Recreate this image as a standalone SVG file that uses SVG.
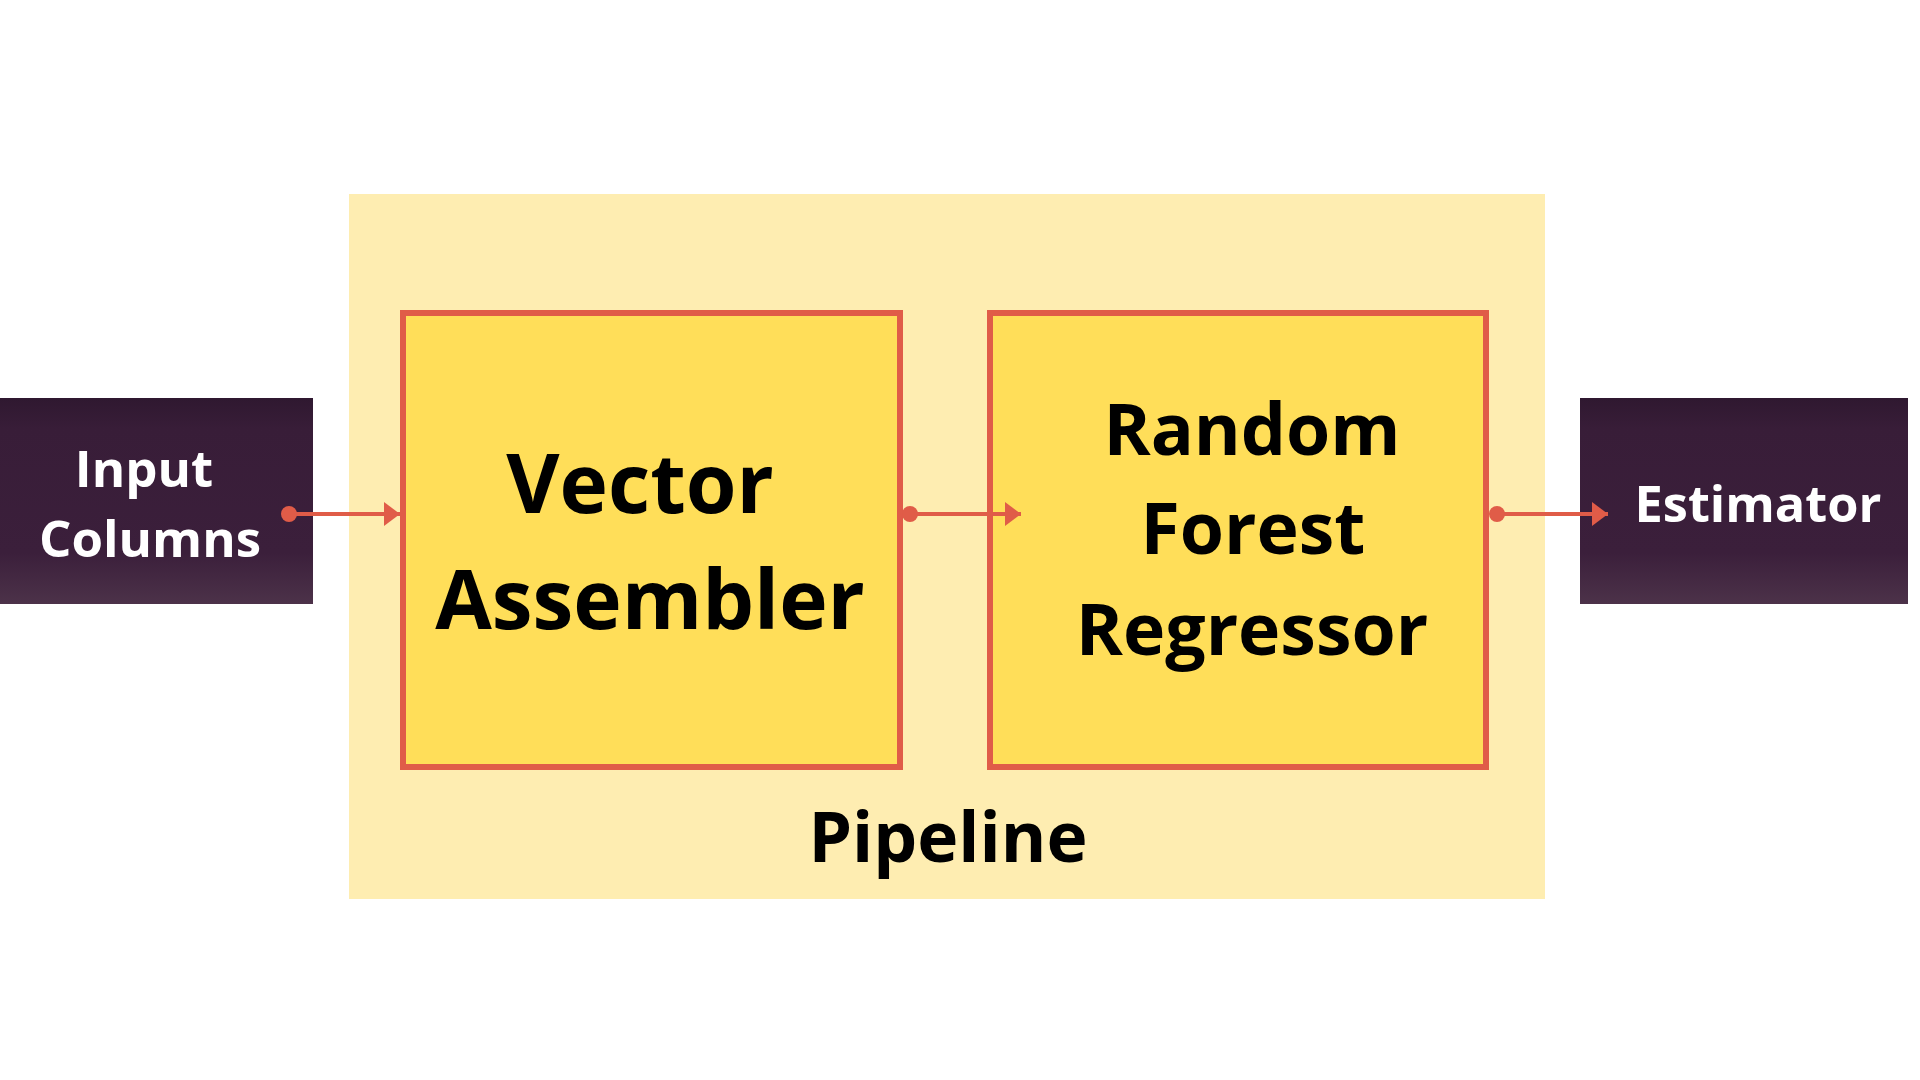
<svg xmlns="http://www.w3.org/2000/svg" width="1920" height="1080" viewBox="0 0 1920 1080">
<defs>
<linearGradient id="dark" x1="0" y1="0" x2="0" y2="1">
<stop offset="0" stop-color="#2f1830"/>
<stop offset="0.15" stop-color="#381d38"/>
<stop offset="0.75" stop-color="#3b1f3b"/>
<stop offset="1" stop-color="#4c3249"/>
</linearGradient>
<marker id="dot" viewBox="0 0 10 10" refX="5" refY="5" markerWidth="4" markerHeight="4" markerUnits="strokeWidth">
<circle cx="5" cy="5" r="5" fill="#e05c48"/>
</marker>
<marker id="arrow" viewBox="0 0 16 24" refX="16" refY="12" markerWidth="16" markerHeight="24" markerUnits="userSpaceOnUse" orient="auto">
<path d="M0,0 L16,12 L0,24 Z" fill="#e05c48"/>
</marker>
<style>
.t{font-family:"Open Sans","Noto Sans","DejaVu Sans",sans-serif;font-weight:700;text-anchor:middle}
.w{fill:#ffffff}
.k{fill:#000000}
.box{fill:#ffde59;stroke:#e05c48;stroke-width:6}
.dk{fill:url(#dark)}
.c{stroke:#e05c48;stroke-width:4;fill:none;marker-start:url(#dot);marker-end:url(#arrow)}
</style>
</defs>
<rect width="1920" height="1080" fill="#ffffff"/>
<g id="pipeline">
<rect x="349" y="194" width="1196" height="705" fill="#feedb1"/>
<text class="t k" x="948" y="862" font-size="69.5">Pipeline</text>
</g>
<g id="input-columns">
<rect class="dk" x="0" y="398" width="313" height="206"/>
<text class="t w" font-size="51"><tspan x="144" y="487">Input</tspan><tspan x="150" y="557">Columns</tspan></text>
</g>
<g id="vector-assembler">
<rect class="box" x="403" y="313" width="497" height="454"/>
<text class="t k" font-size="82"><tspan x="640" y="513">Vector</tspan><tspan x="650" y="629">Assembler</tspan></text>
</g>
<g id="random-forest">
<rect class="box" x="990" y="313" width="496" height="454"/>
<text class="t k" font-size="71.5"><tspan x="1252" y="455">Random</tspan><tspan x="1253" y="554">Forest</tspan><tspan x="1252" y="655">Regressor</tspan></text>
</g>
<g id="estimator">
<rect class="dk" x="1580" y="398" width="328" height="206"/>
<text class="t w" x="1758" y="522" font-size="50.5">Estimator</text>
</g>
<g id="connectors">
<path class="c" d="M289,514 L400,514"/>
<path class="c" d="M910,514 L1021,514"/>
<path class="c" d="M1497,514 L1608,514"/>
</g>
</svg>
